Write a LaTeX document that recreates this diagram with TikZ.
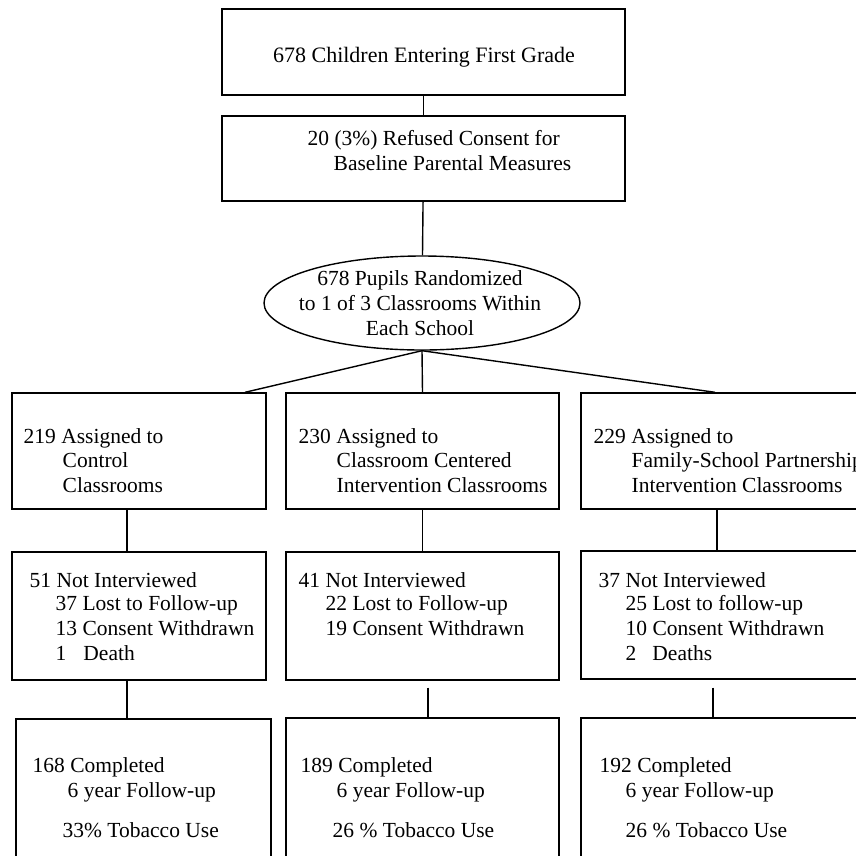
\documentclass[tikz,border=0pt]{standalone}
\usepackage{fontspec}
\setmainfont{Liberation Serif}
\usepackage{tikz}
\usetikzlibrary{shapes.geometric}

\begin{document}
\begin{tikzpicture}[x=1pt, y=-1pt, line width=1.4pt,
    box/.style={draw, rectangle, inner sep=0pt},
    lbl/.style={anchor=base west, inner sep=0pt, font=\fontsize{21.5}{25}\selectfont},
    mid/.style={anchor=base, inner sep=0pt, font=\fontsize{21.5}{25}\selectfont}]
  \useasboundingbox (0,0) rectangle (856,855);
  \clip (0,0) rectangle (856,855);
  % top of the chart
  \node[box, minimum width=403pt, minimum height=86pt] (entry) at (423.5,52) {};
  \node[mid, font=\fontsize{22}{25}\selectfont] (entryt) at (424,62) {678 Children Entering First Grade};
  \node[box, minimum width=403pt, minimum height=85pt] (refuse) at (423.5,158.5) {};
  \node[lbl] (refuse1) at (307,145) {20 (3\%) Refused Consent for};
  \node[lbl] (refuse2) at (333,170) {Baseline Parental Measures};
  \node[draw, ellipse, inner sep=0pt, minimum width=316pt, minimum height=94pt] (rand) at (422,303) {};
  \node[mid] (rand1) at (420,285) {678 Pupils Randomized};
  \node[mid] (rand2) at (420,310) {to 1 of 3 Classrooms Within};
  \node[mid] (rand3) at (420,335) {Each School};
  % assigned
  \node[box, minimum width=254pt, minimum height=116pt] (ctrl) at (139,451) {};
  \node[box, minimum width=273pt, minimum height=116pt] (cc) at (422.5,451) {};
  \node[box, minimum width=289pt, minimum height=116pt] (fsp) at (725.5,451) {};
  \node[lbl] (ctrl1) at (23,443) {219 Assigned to};
  \node[lbl] (ctrl2) at (62,467) {Control};
  \node[lbl] (ctrl3) at (62,492) {Classrooms};
  \node[lbl] (cc1) at (298,443) {230 Assigned to};
  \node[lbl] (cc2) at (336,467) {Classroom Centered};
  \node[lbl] (cc3) at (336,492) {Intervention Classrooms};
  \node[lbl] (fsp1) at (593,443) {229 Assigned to};
  \node[lbl] (fsp2) at (631,467) {Family-School Partnership};
  \node[lbl] (fsp3) at (631,492) {Intervention Classrooms};
  % not interviewed
  \node[box, minimum width=254pt, minimum height=128pt] (ctrlni) at (139,616) {};
  \node[box, minimum width=273pt, minimum height=128pt] (ccni) at (422.5,616) {};
  \node[box, minimum width=289pt, minimum height=128pt] (fspni) at (725.5,615) {};
  \node[lbl] (ctrlni1) at (29,587) {51 Not Interviewed};
  \node[lbl] (ctrlni2) at (55,610) {37 Lost to Follow-up};
  \node[lbl] (ctrlni3) at (55,635) {13 Consent Withdrawn};
  \node[lbl] (ctrlni4) at (55,660) {1\hspace{17pt}Death};
  \node[lbl] (ccni1) at (298,587) {41 Not Interviewed};
  \node[lbl] (ccni2) at (325,610) {22 Lost to Follow-up};
  \node[lbl] (ccni3) at (325,635) {19 Consent Withdrawn};
  \node[lbl] (fspni1) at (598,587) {37 Not Interviewed};
  \node[lbl] (fspni2) at (625,610) {25 Lost to follow-up};
  \node[lbl] (fspni3) at (625,635) {10 Consent Withdrawn};
  \node[lbl] (fspni4) at (625,660) {2\hspace{16pt}Deaths};
  % completed
  \node[box, minimum width=255pt, minimum height=151pt] (ctrlfu) at (143.5,794.5) {};
  \node[box, minimum width=273pt, minimum height=152pt] (ccfu) at (422.5,794) {};
  \node[box, minimum width=289pt, minimum height=152pt] (fspfu) at (725.5,794) {};
  \node[lbl] (ctrlfu1) at (32,772) {168 Completed};
  \node[lbl] (ctrlfu2) at (67,797) {6 year Follow-up};
  \node[lbl] (ctrlfu3) at (62,837) {33\% Tobacco Use};
  \node[lbl] (ccfu1) at (300,772) {189 Completed};
  \node[lbl] (ccfu2) at (336,797) {6 year Follow-up};
  \node[lbl] (ccfu3) at (332,837) {26 \% Tobacco Use};
  \node[lbl] (fspfu1) at (599,772) {192 Completed};
  \node[lbl] (fspfu2) at (625,797) {6 year Follow-up};
  \node[lbl] (fspfu3) at (625,837) {26 \% Tobacco Use};
  % connectors
  \draw (entry) -- (refuse);
  \draw (refuse) -- (rand);
  \draw (rand.south) -- ([xshift=106pt]ctrl.north);
  \draw (rand.south) -- (cc.north);
  \draw (rand.south) -- ([xshift=-10.5pt]fsp.north);
  \draw ([xshift=-12pt]ctrl.south) -- ([xshift=-12pt]ctrlni.north);
  \draw (cc) -- (ccni);
  \draw ([xshift=-8.5pt]fsp.south) -- ([xshift=-8.5pt]fspni.north);
  \draw ([xshift=-12pt]ctrlni.south) -- ([xshift=-12pt]ctrlni.south |- ctrlfu.north);
  \draw ([shift={(5.5,7)}]ccni.south) -- ([xshift=5.5pt]ccni.south |- ccfu.north);
  \draw ([shift={(-12.5,8)}]fspni.south) -- ([xshift=-12.5pt]fspni.south |- fspfu.north);
\end{tikzpicture}
\end{document}
